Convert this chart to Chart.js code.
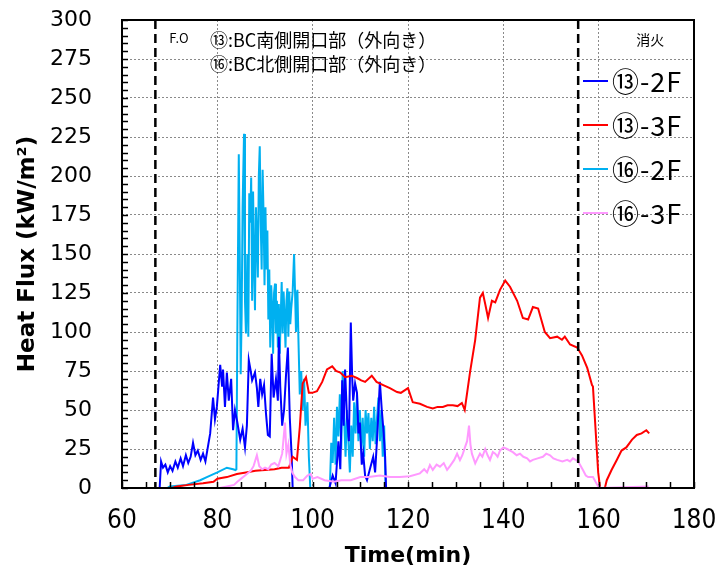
<!DOCTYPE html>
<html>
<head>
<meta charset="utf-8">
<script src="https://cdn.jsdelivr.net/npm/chart.js@4.4.0/dist/chart.umd.min.js"></script>
<style>
  html, body { margin: 0; padding: 0; background: #fff; }
  canvas { display: block; }
</style>
</head>
<body>
<canvas id="chart" width="723" height="573"></canvas>
<script>
// --- DATA (time in min, heat flux in kW/m2) ---
const blue13_2F = [
  [60,0],[67.9,0],[68.2,17],[68.6,13],[69.1,15],[69.6,10],[70.1,14],[70.6,11],[71.2,17],[71.7,13],
  [72.3,19],[72.8,14],[73.4,21],[73.9,16],[74.4,20],[74.9,29],[75.4,21],[75.9,24],[76.5,18],[77.0,22],
  [77.5,17],[78.0,26],[78.5,35],[79.1,58],[79.5,44],[79.9,52],[80.6,79],[81.0,65],[81.2,76],[81.6,52],
  [82.0,74],[82.4,56],[82.9,70],[83.3,37],[83.7,50],[84.2,42],[84.8,31],[85.3,38],[85.8,26],[86.2,40],
  [86.6,82],[87.0,75],[87.3,69],[87.9,74],[88.3,64],[88.6,52],[89.0,70],[89.4,60],[89.8,66],[90.2,48],
  [90.6,34],[91.0,33],[91.4,86],[91.8,58],[92.3,70],[92.7,56],[92.9,97],[93.2,65],[93.6,40],[94.0,50],
  [94.4,72],[94.8,90],[95.2,45],[95.6,20],[95.8,0],[103.5,0],[104.2,8],[104.8,3],[105.4,30],[105.8,12],
  [106.2,69],[106.5,40],[106.8,76],[107.2,45],[107.6,30],[108.0,106],[108.3,70],[108.5,56],[108.9,67],[109.3,61],
  [109.6,35],[109.9,42],[110.3,15],[110.6,22],[111.0,8],[111.4,5],[112.0,12],[112.7,20],[113.1,10],[113.5,31],
  [114.1,68],[114.5,50],[114.9,35],[115.2,20],[115.4,0],[170.5,0]
];

const red13_3F = [
  [60,0],[70.5,0],[71.5,1],[74,2],[77,3],[79.2,4],[80,6],[82,7],[84.1,9],[86,10],
  [88,11],[90,11.5],[92,12],[93.5,13],[95,13],[95.8,20],[96.7,18],[97.3,39],[97.9,67],[98.6,71],
  [99.2,61],[99.9,61],[100.9,62],[102,68],[103,76],[104.1,78],[104.9,75],[105.8,74],[106.8,71],[108.2,72],
  [109.3,70.5],[110.2,69],[111,68],[112.4,72],[113.4,68],[114.8,66],[116.2,64],[117.7,61.5],[118.5,61],[120.0,64],
  [121.0,55],[122.5,54],[124.0,52],[125.2,51],[126.2,52],[127.3,52],[128.3,53],[129.4,53],[130.4,52.5],[131.3,54.5],
  [131.9,50],[133.0,74],[134.1,95],[135.1,122],[135.7,125],[136.2,118],[136.8,109],[137.6,120],[138.3,119],[139.3,127],
  [140.4,133],[141.4,129],[142.9,120],[144.1,109],[145.2,108],[146.2,116],[147.3,115],[148.7,100],[149.8,96],[151.3,97],
  [152.3,95],[152.9,97],[154.0,92],[155.5,90],[156.5,85],[157.6,77],[158.6,66],[158.8,65],[159.9,10],[160.3,0],
  [161.3,0],[161.7,5],[162.7,11.5],[163.8,18],[164.8,24],[165.8,26],[167,31],[168,34],[169,35],[170,37],[170.6,35]
];

const cyan16_2F = [
  [60,0],[69.5,0],[70,1],[73.5,2],[76.4,5],[77.8,7],[80,10],[82,13],[83.3,12],[83.8,11.5],
  [84.0,12],[84.2,100],[84.5,214],[84.7,150],[84.9,73],[85.1,110],[85.3,180],[85.6,227],[85.8,120],[86.0,99],
  [86.3,150],[86.5,97],[86.7,189],[86.9,170],[87.1,199],[87.3,120],[87.5,190],[87.7,144],[87.9,114],[88.1,180],
  [88.3,160],[88.5,135],[88.7,200],[88.9,219],[89.1,170],[89.3,140],[89.5,204],[89.7,175],[89.9,130],[90.1,180],
  [90.3,140],[90.5,165],[90.7,108],[90.9,140],[91.1,90],[91.3,130],[91.5,116],[91.7,86],[91.9,125],[92.1,131],
  [92.3,99],[92.5,120],[92.7,90],[92.9,118],[93.1,86],[93.3,110],[93.5,132],[93.7,99],[93.9,126],[94.1,110],
  [94.3,90],[94.5,120],[94.7,128],[94.9,97],[95.1,126],[95.3,105],[95.5,115],[95.8,126],[96.1,150],[96.3,126],
  [96.5,100],[96.8,127],[97.0,97],[97.3,60],[97.6,75],[97.9,50],[98.2,70],[98.5,40],[98.9,55],[99.2,20],
  [99.5,0],[103.6,0],[103.9,29],[104.2,16],[104.5,45],[104.8,15],[105.1,52],[105.4,33],[105.7,60],[106.0,25],
  [106.3,75],[106.6,45],[106.9,20],[107.2,50],[107.5,30],[107.8,10],[108.1,40],[108.4,20],[108.7,55],[109.0,35],
  [109.3,60],[109.6,30],[109.9,50],[110.2,25],[110.5,45],[110.8,20],[111.1,50],[111.4,35],[111.7,48],[112.0,25],
  [112.3,45],[112.6,30],[112.9,52],[113.2,28],[113.5,45],[113.8,58],[114.1,30],[114.4,50],[114.7,20],[115.0,40],
  [115.3,0],[170.5,0]
];

const pink16_3F = [
  [60,0],[80.5,0],[82,1],[83.5,2],[84.2,4],[85,6],[86.2,9],[87,11],[87.6,14],[88.3,21],
  [88.8,14],[89.4,12],[90,13],[90.7,12],[91.3,15],[92,16],[92.8,14],[93.6,22],[94.2,42],[94.5,22],
  [94.9,28],[95.3,15],[95.7,10],[96.3,7],[97,5],[98,5],[98.9,8],[99.6,9],[100,6],[101,7],
  [102.5,5],[104.5,4],[106,5],[108,5],[110,7],[111.8,7],[114.1,8],[116.2,7],[118.3,7],[120.4,7.5],
  [122.5,9.4],[123.4,12],[124.0,10],[124.6,14.7],[125.2,11.6],[126.0,15],[126.7,13.7],[127.5,16],[128.2,11.6],[128.8,14],
  [129.2,15.8],[129.7,18],[130.3,22],[130.9,17.9],[131.4,21],[132.0,26.5],[132.4,30],[132.8,40],[133.1,28],[133.4,22],
  [134.1,15.8],[134.6,19],[135.1,22],[135.6,20],[136.2,25],[136.7,21],[137.2,18],[137.8,23],[138.3,22],[138.8,20],
  [139.3,24],[140.0,26],[140.8,25],[141.4,24],[142.0,23],[142.8,21],[143.5,22],[144.2,20],[145.0,19],[145.6,17],
  [146.2,18],[147.2,19],[148.3,20],[149.0,22],[149.8,21],[150.5,19],[151.3,18],[152.4,17],[153.4,18],[154.0,17],
  [154.6,19],[155.7,17],[156.7,11.5],[157.3,8],[157.8,7],[158.8,7],[159.9,1],[160.5,0],[170.5,1]
];

const seriesLabels = ["⑬-2F", "⑬-3F", "⑯-2F", "⑯-3F"];
const seriesColors = ["#0000FF", "#FF0000", "#00B0F0", "#FF99FF"];

const xTicks = { min: 60, max: 180, step: 20, minor: 5 };
const yTicks = { min: 0, max: 300, step: 25, minor: 5 };

// event markers (flash over, extinguishing)
const eventTimes = [67, 155.7];
const eventLabels = ["F.O", "消火"];

const noteLines = ["⑬:BC南側開口部（外向き）", "⑯:BC北側開口部（外向き）"];

// --- HELPERS ---
function toXY(pairs) {
  return pairs.map(p => ({ x: p[0], y: p[1] }));
}

function strokeLine(ctx, x1, y1, x2, y2) {
  ctx.beginPath();
  ctx.moveTo(x1, y1);
  ctx.lineTo(x2, y2);
  ctx.stroke();
}

const JP = '"Noto Sans CJK JP", "Noto Sans", sans-serif';

// --- OVERLAY: frame, inner ticks, event lines, notes, legend ---
const overlay = {
  id: "overlay",
  afterDatasetsDraw(chart) {
    const { ctx, chartArea: a, scales: { x, y } } = chart;
    ctx.save();
    ctx.strokeStyle = "#000";
    ctx.lineWidth = 1.5;

    // inward ticks
    for (let v = yTicks.min; v <= yTicks.max; v += yTicks.minor) {
      const py = Math.round(y.getPixelForValue(v)) + 0.5;
      strokeLine(ctx, a.left, py, a.left + 6, py);
    }
    for (let t = xTicks.min; t <= xTicks.max; t += xTicks.minor) {
      const px = Math.round(x.getPixelForValue(t)) + 0.5;
      strokeLine(ctx, px, a.bottom, px, a.bottom - 6);
    }

    // frame
    ctx.lineWidth = 2;
    ctx.strokeRect(a.left, a.top, a.right - a.left, a.bottom - a.top);

    // event lines
    ctx.lineWidth = 2.5;
    ctx.setLineDash([9, 5]);
    eventTimes.forEach(t => {
      const px = x.getPixelForValue(t);
      strokeLine(ctx, px, a.top, px, a.bottom);
    });
    ctx.setLineDash([]);

    // event labels
    ctx.fillStyle = "#000";
    ctx.textBaseline = "middle";
    ctx.font = "13px " + JP;
    ctx.textAlign = "left";
    ctx.fillText(eventLabels[0], x.getPixelForValue(eventTimes[0]) + 14, a.top + 18);
    ctx.font = "14px " + JP;
    ctx.textAlign = "center";
    ctx.fillText(eventLabels[1], x.getPixelForValue(eventTimes[1]) + 72, a.top + 20);

    // notes
    ctx.font = "18px " + JP;
    ctx.textAlign = "left";
    noteLines.forEach((s, i) => ctx.fillText(s, a.left + 88, a.top + 20 + i * 24));

    // legend
    ctx.lineWidth = 2;
    ctx.font = "27px " + JP;
    ctx.letterSpacing = "1px";
    seriesLabels.forEach((s, i) => {
      const ly = a.top + 61 + i * 44;
      ctx.strokeStyle = seriesColors[i];
      strokeLine(ctx, a.right - 111, ly, a.right - 86, ly);
      ctx.fillStyle = "#000";
      ctx.fillText(s, a.right - 82, ly + 1);
    });
    ctx.restore();
  }
};

// --- CHART ---
const datasets = [blue13_2F, red13_3F, cyan16_2F, pink16_3F].map((d, i) => ({
  label: seriesLabels[i],
  data: toXY(d),
  borderColor: seriesColors[i],
  backgroundColor: seriesColors[i],
  order: [2, 1, 3, 0][i]
}));

new Chart(document.getElementById("chart"), {
  type: "line",
  data: { datasets },
  options: {
    responsive: false,
    animation: false,
    layout: { autoPadding: false, padding: { left: 0, top: 20, right: 29, bottom: 0 } },
    elements: {
      line: { borderWidth: 2, tension: 0 },
      point: { radius: 0 }
    },
    plugins: { legend: { display: false }, tooltip: { enabled: false } },
    scales: {
      x: {
        type: "linear",
        min: xTicks.min,
        max: xTicks.max,
        ticks: {
          stepSize: xTicks.step,
          color: "#000",
          padding: 18,
          maxRotation: 0,
          font: { family: '"Liberation Sans Narrow", "DejaVu Sans Condensed", sans-serif', size: 26 }
        },
        grid: { color: "#8a8a8a", lineWidth: 1, drawTicks: false },
        border: { display: false, dash: [2, 2] },
        title: {
          display: true,
          text: "Time(min)",
          color: "#000",
          padding: { top: 0, bottom: 4 },
          font: { family: '"DejaVu Sans", sans-serif', size: 22, weight: "bold" }
        },
        afterFit: s => { s.height = 85; s.paddingLeft = 0; s.paddingRight = 0; }
      },
      y: {
        min: yTicks.min,
        max: yTicks.max,
        ticks: {
          stepSize: yTicks.step,
          color: "#000",
          padding: 30,
          font: { family: '"DejaVu Sans", sans-serif', size: 22 }
        },
        grid: { color: "#8a8a8a", lineWidth: 1, drawTicks: false },
        border: { display: false, dash: [2, 2] },
        title: {
          display: true,
          text: "Heat Flux (kW/m²)",
          color: "#000",
          padding: { top: 14, bottom: 0 },
          font: { family: '"DejaVu Sans", sans-serif', size: 23, weight: "bold" }
        },
        afterFit: s => { s.width = 122; s.paddingTop = 0; s.paddingBottom = 0; }
      }
    }
  },
  plugins: [overlay]
});
</script>
</body>
</html>
